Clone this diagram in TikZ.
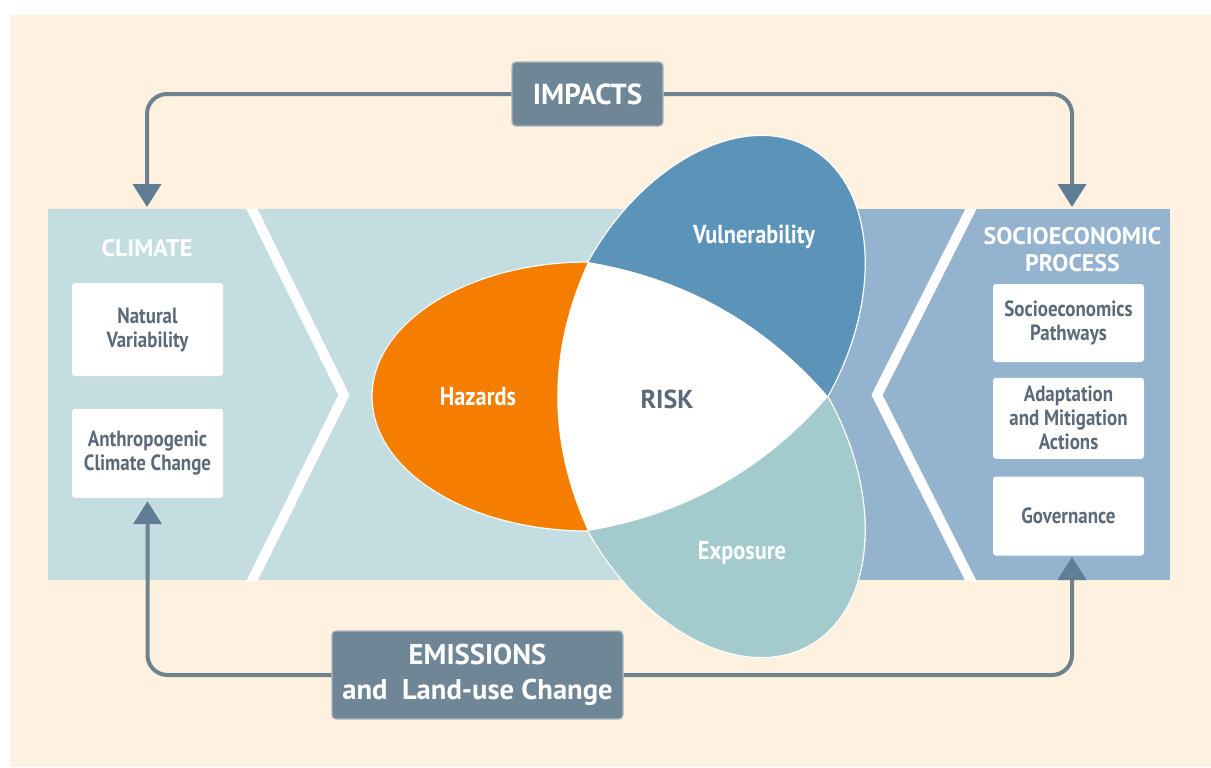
\documentclass[tikz,border=0pt]{standalone}
\usepackage{fontspec}
\setmainfont{PT Sans}
\newfontfamily\condfont[FakeStretch=0.86]{PT Sans}
\usetikzlibrary{arrows.meta, positioning, calc}

\definecolor{cream}{HTML}{FEF1DF}
\definecolor{bandlight}{HTML}{C4DDE0}
\definecolor{banddark}{HTML}{94B3CE}
\definecolor{hazorange}{HTML}{F57D00}
\definecolor{vulnblue}{HTML}{5C93B9}
\definecolor{expteal}{HTML}{A3CBCE}
\definecolor{slate}{HTML}{6F8696}
\definecolor{flowgray}{HTML}{6F818D}
\definecolor{headblue}{HTML}{5F7D94}
\definecolor{inktext}{HTML}{5B6A78}

\tikzset{
  factor/.style={fill=white, rounded corners=1.5pt, align=center, inner sep=0pt,
    minimum width=75.5pt, text=inktext,
    font=\condfont\bfseries\fontsize{11}{12}\selectfont},
  driver/.style={fill=slate, draw=slate!60!white, line width=0.6pt, rounded corners=2pt,
    align=center, inner sep=0pt, text=white},
  flow/.style={draw=flowgray, line width=2pt, rounded corners=10pt,
    -{Triangle[width=14pt, length=11.5pt, color=headblue]}},
  lobe/.style={draw=white, line width=0.6pt},
  lobelabel/.style={text=white, font=\condfont\bfseries\fontsize{13}{15}\selectfont},
  panelhead/.style={text=white, align=center, font=\bfseries\fontsize{12}{13.5}\selectfont},
  stripe/.style={draw=white, line width=5pt, miter limit=10}
}

\begin{document}
\begin{tikzpicture}[x=0.5pt, y=-0.5pt]
  % page and cream panel
  \useasboundingbox (0,0) rectangle (1211,767);
  \fill[white] (0,0) rectangle (1211,767);
  \fill[cream] (10,15) rectangle (1211,767);

  % band with the two chevrons
  \fill[bandlight] (48,209) rectangle (828,580);
  \fill[banddark] (828,209) rectangle (1170,580);
  \begin{scope}
    \clip (48,209) rectangle (1170,580);
    \draw[stripe] (245,195) -- (344,395) -- (245,595);
    \draw[stripe] (978,195) -- (877,395) -- (978,595);
  \end{scope}

  % climate column
  \node[panelhead] (climate) at (147,248) {CLIMATE};
  \node[factor, minimum height=46.5pt] (natural) at (147.5,329.5) {Natural\\Variability};
  \node[factor, minimum height=44.5pt, below=16pt of natural] (anthro) {Anthropogenic\\Climate Change};

  % socioeconomic column
  \node[panelhead] (socio) at (1072.5,250) {SOCIOECONOMIC\\PROCESS};
  \node[factor, minimum height=39pt] (pathways) at (1068.5,323) {Socioeconomics\\Pathways};
  \node[factor, minimum height=40.5pt, below=7.5pt of pathways] (actions) {Adaptation\\and Mitigation\\Actions};
  \node[factor, minimum height=39.5pt, below=8.5pt of actions] (governance) {Governance};

  % the three lobes and the risk core
  \path[lobe, fill=hazorange] (588,396.5) ellipse [x radius=108pt, y radius=67.25pt];
  \begin{scope}
    \clip (468,598.25) -- (948,329.25) -- (948,700) -- (468,700) -- cycle;
    \path[lobe, fill=expteal, rotate around={-60.8:(708,464)}] (708,464) ellipse [x radius=104pt, y radius=68.8pt];
  \end{scope}
  \begin{scope}
    \clip (468,194.75) -- (948,463.75) -- (948,100) -- (468,100) -- cycle;
    \path[lobe, fill=vulnblue, rotate around={60.8:(708,329)}] (708,329) ellipse [x radius=104pt, y radius=68.8pt];
  \end{scope}
  \fill[white] (588,262) .. controls (683,278) and (763,321.5) .. (828,396.5)
    .. controls (763,471.5) and (683,515) .. (588,531)
    .. controls (547,441) and (547,352) .. cycle;

  \node[lobelabel] (hazards) at (478,397) {Hazards};
  \node[lobelabel] (vulnerability) at (754,237) {Vulnerability};
  \node[lobelabel] (exposure) at (742,553) {Exposure};
  \node[text=inktext, font=\bfseries\fontsize{13}{15}\selectfont] (risk) at (667,399) {RISK};

  % drivers
  \node[driver, minimum width=75.5pt, minimum height=32pt,
    font=\bfseries\fontsize{14.5}{16}\selectfont] (impacts) at (587.5,94) {IMPACTS};
  \node[driver, minimum width=145.5pt, minimum height=44pt,
    font=\bfseries\fontsize{14.3}{17.5}\selectfont] (emissions) at (477.5,675) {EMISSIONS\\and\ \ Land-use Change};

  % feedback loops
  \coordinate (climin) at (147,207);
  \coordinate (socin) at (1072,207);
  \draw[flow] (impacts.west) -| (climin);
  \draw[flow] (impacts.east) -| (socin);
  \draw[flow] (emissions.west) -| ([yshift=-1.5pt]anthro.south);
  \draw[flow] (emissions.east) -| ([xshift=1.75pt, yshift=-0.5pt]governance.south);
\end{tikzpicture}
\end{document}
